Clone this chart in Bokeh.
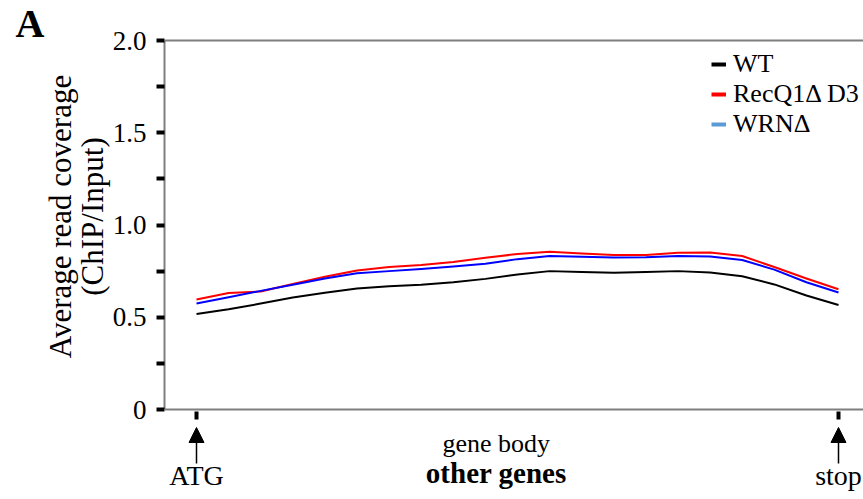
import math
from bokeh.plotting import figure
from bokeh.models import (Range1d, FixedTicker, Label, Arrow, NormalHead, Span,
                          Legend, LegendItem, LinearAxis, ColumnDataSource)
from bokeh.core.properties import value
from bokeh.embed import file_html
from bokeh.resources import INLINE

# ---- data ----
pos = [0, 5, 10, 15, 20, 25, 30, 35, 40, 45, 50, 55, 60, 65, 70, 75, 80, 85, 90, 95, 100]
wt = [0.518, 0.543, 0.574, 0.607, 0.633, 0.656, 0.668, 0.676, 0.690, 0.708, 0.732,
      0.750, 0.745, 0.741, 0.745, 0.750, 0.742, 0.722, 0.678, 0.618, 0.566]
recq1 = [0.596, 0.632, 0.640, 0.680, 0.720, 0.753, 0.772, 0.783, 0.800, 0.822, 0.843,
         0.855, 0.845, 0.838, 0.838, 0.850, 0.851, 0.832, 0.772, 0.710, 0.652]
wrn = [0.574, 0.608, 0.643, 0.676, 0.710, 0.738, 0.750, 0.762, 0.775, 0.790, 0.815,
       0.832, 0.828, 0.824, 0.825, 0.832, 0.829, 0.810, 0.758, 0.690, 0.634]
series = [wt, recq1, wrn]
series_names = ["WT", "RecQ1\u0394 D3", "WRN\u0394"]
line_colors = ["#000000", "#ff0000", "#0000ff"]
swatch_colors = ["#000000", "#ff0000", "#5b9bd5"]

y_ticks = [0, 0.5, 1.0, 1.5, 2.0]
y_tick_labels = ["0", "0.5", "1.0", "1.5", "2.0"]
y_minor = [0.25, 0.75, 1.25, 1.75]
x_marks = [0, 100]
x_mark_labels = ["ATG", "stop"]
region_label = "gene body"
group_label = "other genes"
panel_letter = "A"
y_label_lines = ["Average read coverage", "(ChIP/Input)"]

FONT = "Liberation Serif"
W, H = 863, 499
LEFT = 164
frame_w = W - LEFT
# vertical layout (pixels from canvas top)
Y_TOP_PX, Y_ZERO_PX = 40, 409
y0, y1 = 0.0, 2.0
px_y = (y1 - y0) / (Y_ZERO_PX - Y_TOP_PX)
yr_top = y1 + Y_TOP_PX * px_y
yr_bot = y0 - (H - Y_ZERO_PX) * px_y
# horizontal: ATG 32px right of frame left, stop 642px further
px_x = (x_marks[1] - x_marks[0]) / 642.0
x_start = x_marks[0] - 32 * px_x
x_end = x_start + frame_w * px_x

def below(px):
    """data y for a point px pixels below the zero line"""
    return y0 - px * px_y

def at_px(py):
    """data y for a canvas row py (pixels from the top)"""
    return y1 + (Y_TOP_PX - py) * px_y

p = figure(width=W, height=H, output_backend="svg", toolbar_location=None,
           x_range=Range1d(x_start, x_end), y_range=Range1d(yr_bot, yr_top),
           x_axis_location=None,
           min_border_left=LEFT, min_border_top=0, min_border_bottom=0,
           min_border_right=0)
p.outline_line_color = None
p.grid.visible = False
p.background_fill_color = "white"
p.border_fill_color = "white"

for ys, c in zip(series, line_colors):
    p.line(pos, ys, line_color=c, line_width=2, line_join="round")

# legend with its own swatch colours
items = []
for name, c in zip(series_names, swatch_colors):
    r = p.line([math.nan], [math.nan], line_color=c, line_width=4)
    items.append(LegendItem(label=name, renderers=[r]))
leg = Legend(items=items, location=(547, 360), margin=0, padding=0,
             border_line_color=None, background_fill_alpha=0,
             glyph_width=15, glyph_height=26, label_height=26, label_standoff=7,
             spacing=-3, label_text_font=FONT, label_text_font_size="26px",
             label_text_color="black", label_text_line_height=1.0)
p.add_layout(leg)

# y axis
ya = p.yaxis[0]
ya.bounds = (y0, y1)
ya.ticker = FixedTicker(ticks=y_ticks, minor_ticks=y_minor)
ya.major_label_overrides = {t: l for t, l in zip(y_ticks, y_tick_labels)}
ya.axis_line_color = "#7f7f7f"
ya.axis_line_width = 2
ya.major_tick_line_color = "black"
ya.major_tick_line_width = 4
ya.major_tick_out = 8
ya.major_tick_in = 0
ya.minor_tick_line_color = "black"
ya.minor_tick_line_width = 4
ya.minor_tick_out = 8
ya.minor_tick_in = 0
ya.major_label_standoff = 10
ya.major_label_text_font = FONT
ya.major_label_text_font_size = "27px"
ya.major_label_text_color = "black"

# y label lines and panel letter, carried by outer axes on the left
label_y = at_px(216)

def text_axis(txt, ty, size, style, standoff, orientation):
    return LinearAxis(ticker=FixedTicker(ticks=[ty], minor_ticks=[]),
                      major_label_overrides={ty: txt},
                      axis_line_color=None, major_tick_line_color=None,
                      minor_tick_line_color=None, major_tick_out=0, major_tick_in=0,
                      minor_tick_out=0, minor_tick_in=0,
                      major_label_standoff=standoff, major_label_text_font=FONT,
                      major_label_text_font_size=size,
                      major_label_text_font_style=style,
                      major_label_text_color="black",
                      major_label_orientation=orientation)

p.add_layout(text_axis(y_label_lines[1], label_y, "31px", "normal", 0, "vertical"), "left")
p.add_layout(text_axis(y_label_lines[0], label_y, "31px", "normal", -6, "vertical"), "left")
p.add_layout(text_axis(panel_letter, at_px(22), "40px", "bold", -5, "horizontal"), "left")

# zero line and top line
p.add_layout(Span(location=y0, dimension="width", line_color="#7f7f7f", line_width=2))
p.add_layout(Span(location=y1, dimension="width", line_color="#7f7f7f", line_width=2))

# marks under the axis
p.segment(x0=x_marks, y0=[below(2)] * 2, x1=x_marks, y1=[below(10)] * 2,
          line_color="black", line_width=4)
for xm in x_marks:
    p.add_layout(Arrow(end=NormalHead(size=15, fill_color="black", line_color="black"),
                       x_start=xm, y_start=below(54), x_end=xm, y_end=below(18),
                       line_color="black", line_width=1.5))
src = ColumnDataSource(dict(x=x_marks, y=[below(66)] * 2, t=x_mark_labels))
p.text(x="x", y="y", text="t", source=src, text_align="center",
       text_baseline="alphabetic", text_font=value(FONT), text_font_size="28px",
       text_color="black")

mid = 46.7
p.add_layout(Label(x=mid, y=below(34), text=region_label, text_align="center",
                   text_baseline="alphabetic", text_font=FONT, text_font_size="26px",
                   text_color="black"))
p.add_layout(Label(x=mid, y=below(63), text=group_label, text_align="center",
                   text_baseline="alphabetic", text_font=FONT, text_font_size="29px",
                   text_font_style="bold", text_color="black"))

open("out.html", "w").write(file_html(p, INLINE))
